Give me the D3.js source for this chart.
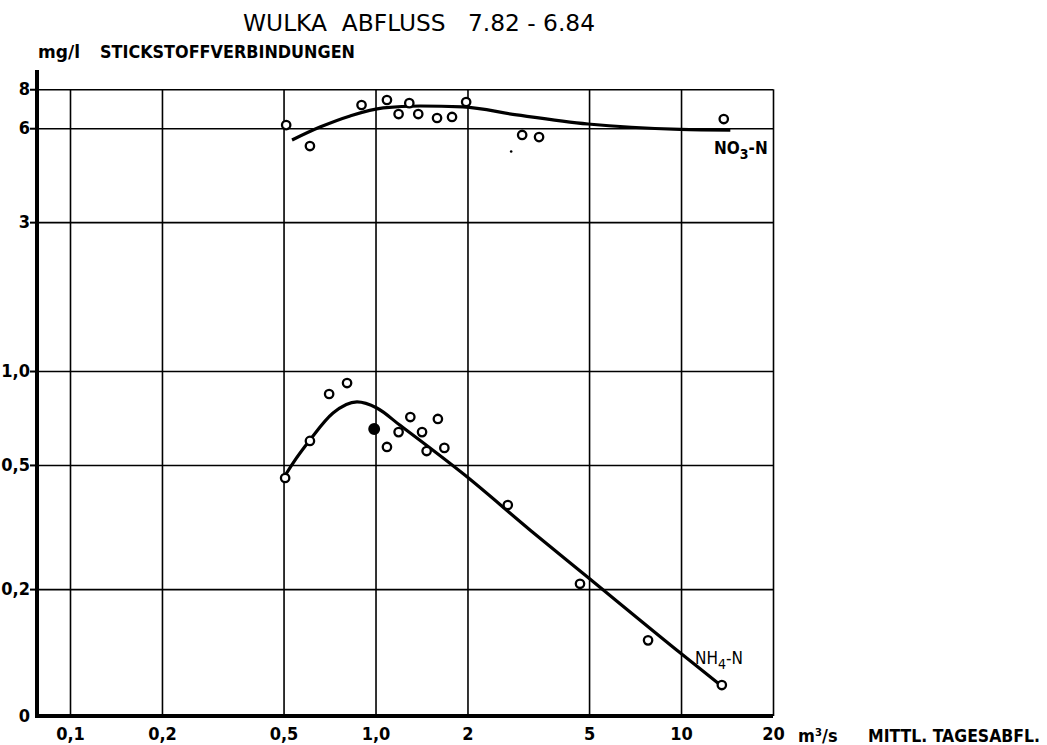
<!DOCTYPE html>
<html>
<head>
<meta charset="utf-8">
<script src="https://cdn.jsdelivr.net/npm/d3@7"></script>
<style>
  body { margin: 0; background: #fff; }
  svg { display: block; }
  text { fill: #000; }
</style>
</head>
<body>
<div id="chart"></div>
<script>
// discharge (m3/s) ticks and labels
var xTicks = [0.1, 0.2, 0.5, 1, 2, 5, 10, 20];
var xTickLabels = ["0,1", "0,2", "0,5", "1,0", "2", "5", "10", "20"];
// concentration (mg/l) ticks, bottom line is labelled "0"
var yBottom = 0.0784;
var yTicks = [0.2, 0.5, 1, 3, 6, 8];
var yTickLabels = ["0,2", "0,5", "1,0", "3", "6", "8"];

// NO3-N measurements
var no3Q = [0.51, 0.61, 0.90, 1.09, 1.19, 1.29, 1.38, 1.59, 1.78, 1.98, 3.02, 3.43, 13.8];
var no3C = [6.14, 5.26, 7.12, 7.39, 6.66, 7.22, 6.66, 6.47, 6.52, 7.28, 5.71, 5.62, 6.42];
// NO3-N fitted curve
var no3CurveQ = [0.533, 0.658, 0.826, 1.06, 1.40, 1.93, 2.90, 4.96, 9.93, 14.5];
var no3CurveC = [5.50, 6.05, 6.57, 6.97, 7.07, 7.02, 6.62, 6.19, 5.95, 5.92];

// NH4-N measurements (filled = special sample at 1.0)
var nh4Q = [0.506, 0.61, 0.705, 0.807, 1.09, 1.19, 1.30, 1.42, 1.47, 1.60, 1.68, 2.71, 4.67, 7.80, 13.6];
var nh4C = [0.454, 0.597, 0.844, 0.915, 0.571, 0.637, 0.712, 0.637, 0.554, 0.702, 0.567, 0.372, 0.208, 0.137, 0.0985];
var nh4FilledQ = [0.99];
var nh4FilledC = [0.652];
// NH4-N fitted curve
var nh4CurveQ = [0.502, 0.537, 0.61, 0.726, 0.870, 1.01, 1.20, 1.96, 3.21, 4.85, 9.93, 13.2];
var nh4CurveC = [0.457, 0.507, 0.601, 0.733, 0.796, 0.761, 0.671, 0.464, 0.309, 0.222, 0.125, 0.100];

var width = 1047, height = 745;
var axisX = 37, axisTop = 70;

var svg = d3.select("#chart").append("svg")
    .attr("width", width)
    .attr("height", height);

var x = d3.scaleLog().domain([0.1, 20]).range([70, 773]);
var y = d3.scaleLog().domain([yBottom, 9.22]).range([716, 70]);

var font = "'DejaVu Sans Condensed', 'DejaVu Sans', sans-serif";

// vertical grid lines + x labels
var xAxis = svg.append("g")
    .attr("transform", "translate(0," + y(yBottom) + ")")
    .call(d3.axisBottom(x)
        .tickValues(xTicks)
        .tickSize(-(y(yBottom) - y(8)))
        .tickPadding(11)
        .tickFormat(function (d, i) { return xTickLabels[i]; }));
xAxis.select(".domain").remove();
xAxis.selectAll("line").attr("stroke", "#000").attr("stroke-width", 1.6);
xAxis.selectAll("text")
    .attr("font-family", font)
    .attr("font-weight", "bold")
    .attr("font-size", 18)
    .attr("fill", "#000");

// horizontal grid lines + y labels
var yAxis = svg.append("g")
    .attr("transform", "translate(" + axisX + ",0)")
    .call(d3.axisLeft(y)
        .tickValues(yTicks)
        .tickSize(-(x(20) - axisX))
        .tickPadding(7)
        .tickFormat(function (d, i) { return yTickLabels[i]; }));
yAxis.select(".domain").remove();
yAxis.selectAll("line").attr("stroke", "#000").attr("stroke-width", 1.6);
yAxis.selectAll("text")
    .attr("font-family", font)
    .attr("font-weight", "bold")
    .attr("font-size", 18)
    .attr("fill", "#000");
// small stubs left of the axis
yAxis.selectAll(".tick").append("line")
    .attr("x1", -7).attr("x2", 0)
    .attr("stroke", "#000").attr("stroke-width", 2);

// "0" at bottom
svg.append("text")
    .attr("x", 30).attr("y", y(yBottom) + 6)
    .attr("text-anchor", "end")
    .attr("font-family", font).attr("font-weight", "bold").attr("font-size", 18)
    .text("0");

// thick axes
svg.append("line")
    .attr("x1", axisX).attr("x2", axisX)
    .attr("y1", axisTop).attr("y2", y(yBottom) + 2)
    .attr("stroke", "#000").attr("stroke-width", 4);
svg.append("line")
    .attr("x1", axisX - 2).attr("x2", x(20))
    .attr("y1", y(yBottom)).attr("y2", y(yBottom))
    .attr("stroke", "#000").attr("stroke-width", 4);

// curves
var line = d3.line()
    .x(function (d) { return x(d[0]); })
    .y(function (d) { return y(d[1]); })
    .curve(d3.curveMonotoneX);

svg.append("path")
    .datum(d3.zip(no3CurveQ, no3CurveC))
    .attr("d", line)
    .attr("fill", "none").attr("stroke", "#000").attr("stroke-width", 3.2);

svg.append("path")
    .datum(d3.zip(nh4CurveQ, nh4CurveC))
    .attr("d", line)
    .attr("fill", "none").attr("stroke", "#000").attr("stroke-width", 3.2);

// points
function dots(qs, cs, filled) {
    svg.append("g").selectAll("circle")
        .data(d3.zip(qs, cs))
        .enter().append("circle")
        .attr("cx", function (d) { return x(d[0]); })
        .attr("cy", function (d) { return y(d[1]); })
        .attr("r", filled ? 4.8 : 4.2)
        .attr("fill", filled ? "#000" : "#fff")
        .attr("stroke", "#000")
        .attr("stroke-width", 2.3);
}
dots(no3Q, no3C, false);
dots(nh4Q, nh4C, false);
dots(nh4FilledQ, nh4FilledC, true);

// stray dot next to NO3 points
svg.append("circle")
    .attr("cx", x(2.78)).attr("cy", y(5.05))
    .attr("r", 1.3).attr("fill", "#000");

// series labels
var no3Label = svg.append("text")
    .attr("x", 714).attr("y", 154)
    .attr("font-family", font).attr("font-weight", "bold").attr("font-size", 17);
no3Label.append("tspan").text("NO");
no3Label.append("tspan").attr("dy", 5).attr("font-size", 14).text("3");
no3Label.append("tspan").attr("dy", -5).text("-N");

var nh4Label = svg.append("text")
    .attr("x", 695).attr("y", 664)
    .attr("font-family", font).attr("font-size", 17);
nh4Label.append("tspan").text("NH");
nh4Label.append("tspan").attr("dy", 5).attr("font-size", 14).text("4");
nh4Label.append("tspan").attr("dy", -5).text("-N");

// title and axis titles
svg.append("text")
    .attr("x", 243).attr("y", 31)
    .attr("font-family", "'DejaVu Sans', sans-serif")
    .attr("font-size", 23)
    .attr("textLength", 352).attr("lengthAdjust", "spacingAndGlyphs")
    .attr("xml:space", "preserve")
    .text("WULKA  ABFLUSS   7.82 - 6.84");

svg.append("text")
    .attr("x", 38).attr("y", 58)
    .attr("font-family", font).attr("font-weight", "bold").attr("font-size", 17)
    .attr("textLength", 42).attr("lengthAdjust", "spacingAndGlyphs")
    .text("mg/l");
svg.append("text")
    .attr("x", 100).attr("y", 58)
    .attr("font-family", font).attr("font-weight", "bold").attr("font-size", 17)
    .attr("textLength", 255).attr("lengthAdjust", "spacingAndGlyphs")
    .text("STICKSTOFFVERBINDUNGEN");

svg.append("text")
    .attr("x", 798).attr("y", 742)
    .attr("font-family", font).attr("font-weight", "bold").attr("font-size", 18)
    .text("m³/s");
svg.append("text")
    .attr("x", 868).attr("y", 742)
    .attr("font-family", font).attr("font-weight", "bold").attr("font-size", 17)
    .attr("textLength", 172).attr("lengthAdjust", "spacingAndGlyphs")
    .text("MITTL. TAGESABFL.");
</script>
</body>
</html>
